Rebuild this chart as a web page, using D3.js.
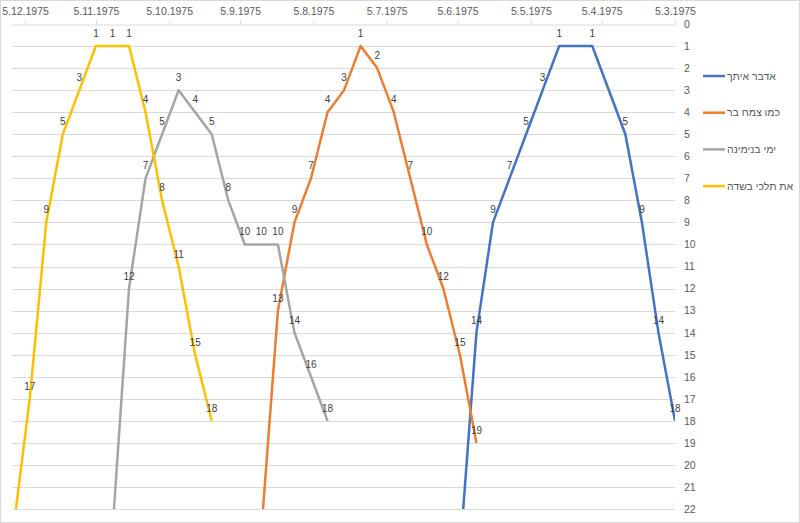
<!DOCTYPE html>
<html>
<head>
<meta charset="utf-8">
<script src="https://cdn.jsdelivr.net/npm/d3@7"></script>
<style>
  body { margin: 0; background: #fff; }
  svg { display: block; font-family: "Liberation Sans", Arial, sans-serif; }
</style>
</head>
<body>
<div id="chart"></div>
<script>
  // weekly chart dates
  var weeks = [
    "5.3.1975", "12.3.1975", "19.3.1975", "26.3.1975", "2.4.1975", "9.4.1975",
    "16.4.1975", "23.4.1975", "30.4.1975", "7.5.1975", "14.5.1975", "21.5.1975",
    "28.5.1975", "4.6.1975", "11.6.1975", "18.6.1975", "25.6.1975", "2.7.1975",
    "9.7.1975", "16.7.1975", "23.7.1975", "30.7.1975", "6.8.1975", "13.8.1975",
    "20.8.1975", "27.8.1975", "3.9.1975", "10.9.1975", "17.9.1975", "24.9.1975",
    "1.10.1975", "8.10.1975", "15.10.1975", "22.10.1975", "29.10.1975", "5.11.1975",
    "12.11.1975", "19.11.1975", "26.11.1975", "3.12.1975", "10.12.1975"
  ];

  var seriesNames = ["אדבר איתך", "כמו צמח בר", "ימי בנימינה", "את תלכי בשדה"];
  var seriesColors = ["#4472C4", "#ED7D31", "#A5A5A5", "#FFC000"];

  var _ = null;
  var adaberItach = [18, 14, 9, 5, _, 1, _, 1, 3, 5, 7, 9, 14, 24,
    _, _, _, _, _, _, _, _, _, _, _, _, _, _, _, _, _, _, _, _, _, _, _, _, _, _, _];
  var kmoTzemachBar = [_, _, _, _, _, _, _, _, _, _, _, _, 19, 15, 12, 10, 7, 4, 2, 1, 3, 4, 7, 9, 13, 23,
    _, _, _, _, _, _, _, _, _, _, _, _, _, _, _];
  var yemeiBinyamina = [_, _, _, _, _, _, _, _, _, _, _, _, _, _, _, _, _, _, _, _, _,
    18, 16, 14, 10, 10, 10, 8, 5, 4, 3, 5, 7, 12, 23, _, _, _, _, _, _];
  var atTelchiBasade = [_, _, _, _, _, _, _, _, _, _, _, _, _, _, _, _, _, _, _, _, _, _, _, _, _, _, _, _,
    18, 15, 11, 8, 4, 1, 1, 1, 3, 5, 9, 17, 23];

  var xTickLabels = ["5.3.1975", "5.4.1975", "5.5.1975", "5.6.1975", "5.7.1975",
    "5.8.1975", "5.9.1975", "5.10.1975", "5.11.1975", "5.12.1975"];
  var yTicks = d3.range(0, 23);

  var W = 800, H = 523;
  var plot = {left: 12, right: 675, top: 24, bottom: 509};
  var parse = d3.timeParse("%d.%m.%Y");

  var allValues = [adaberItach, kmoTzemachBar, yemeiBinyamina, atTelchiBasade];
  var series = allValues.map(function(vals, i) {
    return {
      name: seriesNames[i],
      color: seriesColors[i],
      points: vals.map(function(v, k) { return {date: parse(weeks[k]), value: v}; })
        .filter(function(p) { return p.value !== null; })
    };
  });

  var firstDay = parse(weeks[0]);
  var lastDay = d3.timeHour.offset(parse(weeks[weeks.length - 1]), 12);

  // reversed date axis: latest on the left
  var x = d3.scaleTime().domain([lastDay, firstDay]).range([plot.left, plot.right]);
  var y = d3.scaleLinear().domain([0, 22]).range([plot.top, plot.bottom]);

  var svg = d3.select("#chart").append("svg")
    .attr("width", W)
    .attr("height", H);

  svg.append("rect")
    .attr("x", 0.5).attr("y", 0.5)
    .attr("width", W - 1).attr("height", H - 1)
    .attr("fill", "#fff")
    .attr("stroke", "#d9d9d9");

  svg.append("clipPath").attr("id", "plotClip")
    .append("rect")
    .attr("x", plot.left).attr("y", plot.top)
    .attr("width", plot.right - plot.left).attr("height", plot.bottom - plot.top);

  // horizontal gridlines
  svg.append("g")
    .selectAll("line")
    .data(yTicks.slice(1))
    .enter().append("line")
    .attr("x1", plot.left).attr("x2", plot.right)
    .attr("y1", function(d) { return Math.round(y(d)) + 0.5; })
    .attr("y2", function(d) { return Math.round(y(d)) + 0.5; })
    .attr("stroke", "#d9d9d9")
    .attr("stroke-width", 1);

  // top date axis
  var xAxis = d3.axisTop(x)
    .tickValues(xTickLabels.map(parse))
    .tickFormat(function(d, i) { return xTickLabels[i]; })
    .tickSizeInner(4)
    .tickSizeOuter(0)
    .tickPadding(6);

  var gx = svg.append("g")
    .attr("transform", "translate(0," + (Math.round(y(0)) + 0.5) + ")")
    .call(xAxis);
  gx.select(".domain").attr("stroke", "#d9d9d9");
  gx.selectAll(".tick line").attr("stroke", "#d9d9d9");
  gx.selectAll(".tick text")
    .attr("fill", "#595959")
    .attr("font-size", "10.5px")
    .attr("font-family", "Liberation Sans, Arial, sans-serif");

  // right value axis, labels only
  var yAxis = d3.axisRight(y)
    .tickValues(yTicks)
    .tickSize(0)
    .tickPadding(9);

  var gy = svg.append("g")
    .attr("transform", "translate(" + plot.right + ",0)")
    .call(yAxis);
  gy.select(".domain").remove();
  gy.selectAll(".tick text")
    .attr("fill", "#595959")
    .attr("font-size", "10.5px")
    .attr("font-family", "Liberation Sans, Arial, sans-serif");

  var line = d3.line()
    .x(function(d) { return x(d.date); })
    .y(function(d) { return y(d.value); });

  svg.append("g")
    .attr("clip-path", "url(#plotClip)")
    .selectAll("path")
    .data(series)
    .enter().append("path")
    .attr("d", function(s) { return line(s.points); })
    .attr("fill", "none")
    .attr("stroke", function(s) { return s.color; })
    .attr("stroke-width", 2.5)
    .attr("stroke-linejoin", "round");

  // data labels above each visible point
  series.forEach(function(s) {
    svg.append("g")
      .selectAll("text")
      .data(s.points.filter(function(p) { return p.value <= 22; }))
      .enter().append("text")
      .attr("x", function(p) { return x(p.date); })
      .attr("y", function(p) { return y(p.value) - 9; })
      .attr("text-anchor", "middle")
      .attr("font-size", "10px")
      .attr("fill", "#404040")
      .text(function(p) { return p.value; });
  });

  // legend
  var legend = svg.append("g").attr("class", "legend");
  series.forEach(function(s, i) {
    var ly = 76 + i * 36.7;
    legend.append("line")
      .attr("x1", 703).attr("x2", 725)
      .attr("y1", ly).attr("y2", ly)
      .attr("stroke", s.color)
      .attr("stroke-width", 2.5);
    legend.append("text")
      .attr("x", 727)
      .attr("y", ly)
      .attr("dy", "0.35em")
      .attr("font-size", "10.5px")
      .attr("fill", "#595959")
      .text(s.name);
  });
</script>
</body>
</html>
